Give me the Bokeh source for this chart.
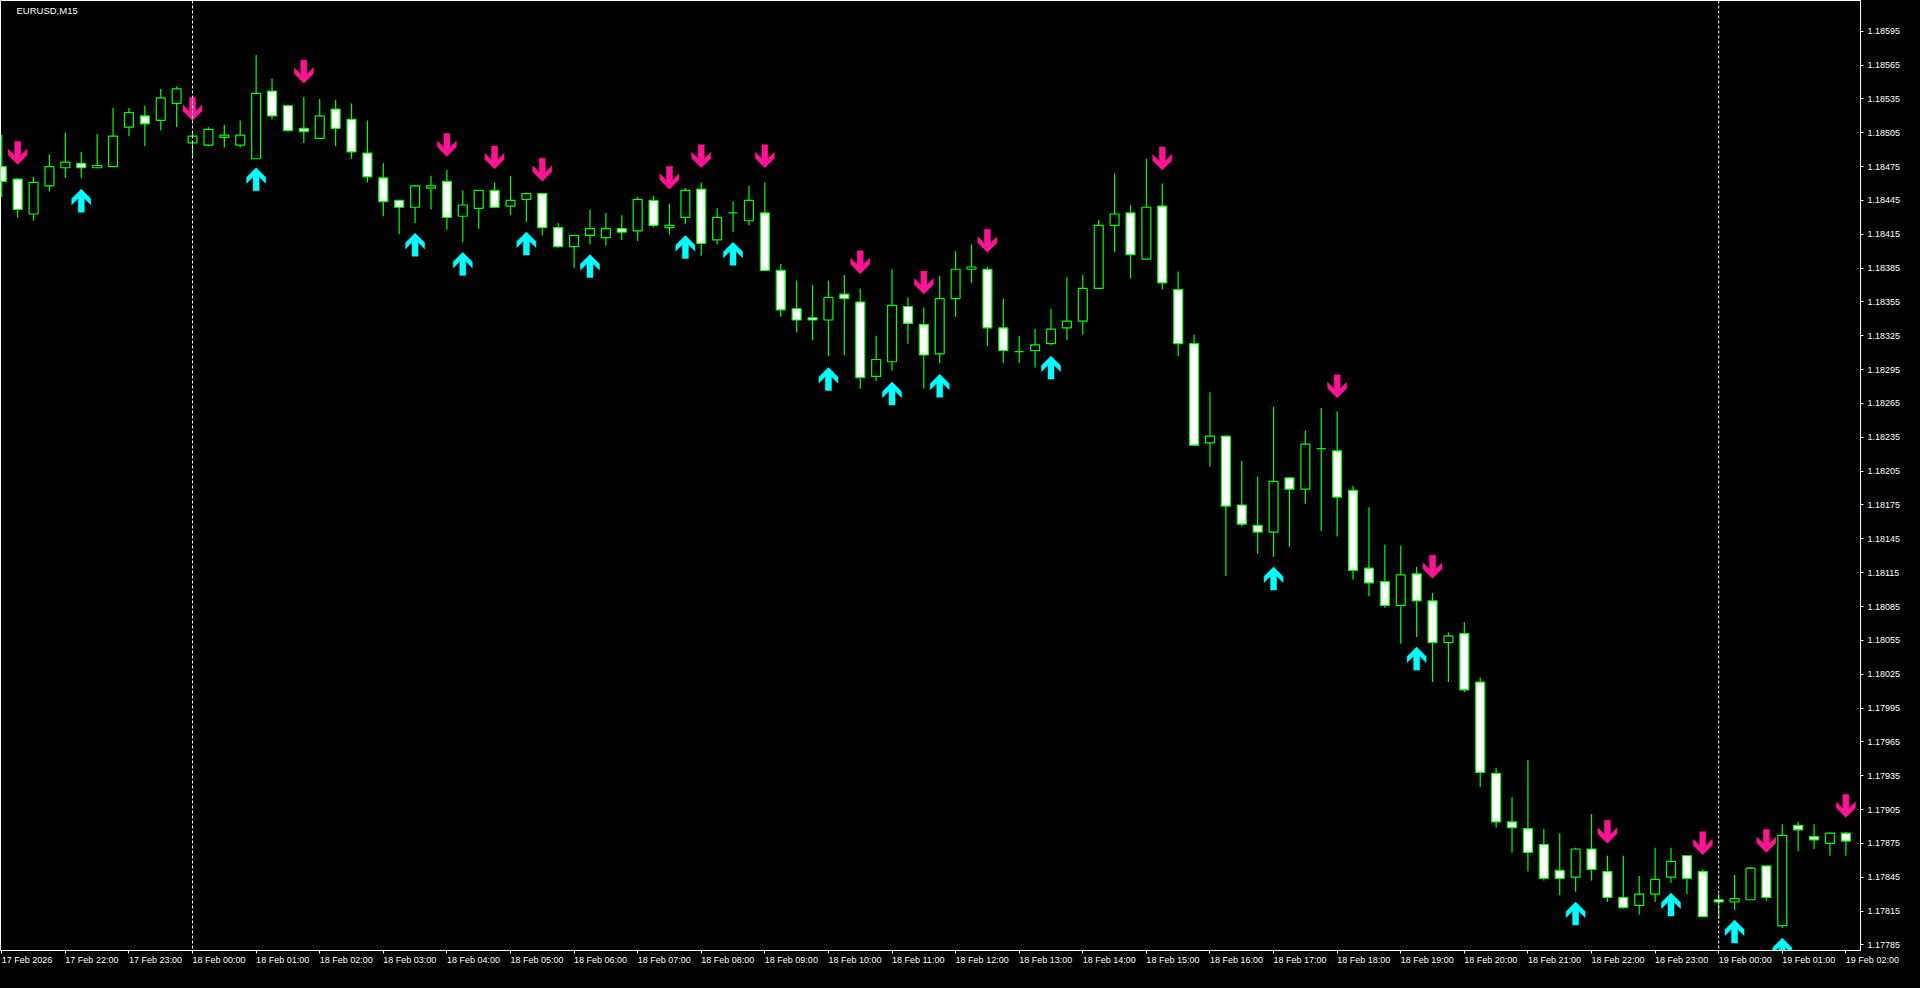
from bokeh.plotting import figure
from bokeh.models import (Range1d, LinearAxis, FixedTicker, PrintfTickFormatter,
                          ColumnDataSource, Span, Label)
from bokeh.embed import file_html
from bokeh.resources import INLINE

# ---------------- DATA (EURUSD M15, 17 Feb 21:00 -> 19 Feb 02:00) ----------------
opens = [1.18475, 1.18464, 1.18433, 1.18458, 1.18474, 1.18478, 1.18474, 1.18475, 1.18510, 1.18520,
         1.18516, 1.18531, 1.18496, 1.18494, 1.18501, 1.18494, 1.18482, 1.18542, 1.18529, 1.18509,
         1.18500, 1.18526, 1.18517, 1.18487, 1.18465, 1.18445, 1.18439, 1.18456, 1.18462, 1.18431,
         1.18438, 1.18454, 1.18440, 1.18446, 1.18451, 1.18421, 1.18404, 1.18414, 1.18412, 1.18420,
         1.18418, 1.18445, 1.18421, 1.18430, 1.18455, 1.18410, 1.18434, 1.18427, 1.18434, 1.18383,
         1.18349, 1.18341, 1.18339, 1.18362, 1.18355, 1.18289, 1.18302, 1.18351, 1.18335, 1.18309,
         1.18358, 1.18384, 1.18384, 1.18332, 1.18311, 1.18312, 1.18318, 1.18332, 1.18338, 1.18367,
         1.18423, 1.18434, 1.18393, 1.18440, 1.18366, 1.18318, 1.18230, 1.18236, 1.18175, 1.18157,
         1.18151, 1.18199, 1.18189, 1.18225, 1.18223, 1.18188, 1.18119, 1.18107, 1.18086, 1.18114,
         1.18090, 1.18053, 1.18061, 1.18018, 1.17937, 1.17894, 1.17888, 1.17874, 1.17851, 1.17845,
         1.17870, 1.17850, 1.17827, 1.17820, 1.17830, 1.17845, 1.17864, 1.17850, 1.17825, 1.17823,
         1.17825, 1.17855, 1.17802, 1.17891, 1.17881, 1.17875, 1.17884]
highs = [1.18503, 1.18465, 1.18466, 1.18486, 1.18505, 1.18488, 1.18504, 1.18527, 1.18527, 1.18529,
         1.18544, 1.18546, 1.18506, 1.18510, 1.18512, 1.18516, 1.18574, 1.18553, 1.18530, 1.18537,
         1.18535, 1.18534, 1.18531, 1.18516, 1.18478, 1.18445, 1.18459, 1.18467, 1.18472, 1.18454,
         1.18454, 1.18461, 1.18467, 1.18452, 1.18451, 1.18425, 1.18414, 1.18437, 1.18434, 1.18432,
         1.18448, 1.18449, 1.18442, 1.18456, 1.18461, 1.18438, 1.18444, 1.18458, 1.18461, 1.18389,
         1.18374, 1.18370, 1.18374, 1.18379, 1.18367, 1.18325, 1.18384, 1.18359, 1.18350, 1.18378,
         1.18400, 1.18406, 1.18386, 1.18358, 1.18325, 1.18331, 1.18349, 1.18377, 1.18379, 1.18428,
         1.18469, 1.18441, 1.18482, 1.18460, 1.18382, 1.18326, 1.18275, 1.18236, 1.18214, 1.18200,
         1.18262, 1.18200, 1.18241, 1.18261, 1.18258, 1.18192, 1.18173, 1.18140, 1.18139, 1.18120,
         1.18097, 1.18062, 1.18071, 1.18022, 1.17942, 1.17916, 1.17949, 1.17888, 1.17884, 1.17871,
         1.17901, 1.17864, 1.17864, 1.17846, 1.17871, 1.17871, 1.17864, 1.17852, 1.17830, 1.17847,
         1.17854, 1.17855, 1.17892, 1.17894, 1.17892, 1.17884, 1.17885]
lows = [1.18448, 1.18430, 1.18427, 1.18453, 1.18465, 1.18465, 1.18474, 1.18475, 1.18502, 1.18493,
        1.18507, 1.18510, 1.18483, 1.18493, 1.18492, 1.18492, 1.18482, 1.18517, 1.18506, 1.18496,
        1.18499, 1.18493, 1.18482, 1.18461, 1.18431, 1.18415, 1.18425, 1.18437, 1.18419, 1.18408,
        1.18420, 1.18438, 1.18432, 1.18426, 1.18414, 1.18403, 1.18385, 1.18406, 1.18405, 1.18410,
        1.18409, 1.18421, 1.18415, 1.18424, 1.18396, 1.18406, 1.18417, 1.18423, 1.18383, 1.18342,
        1.18328, 1.18321, 1.18307, 1.18308, 1.18278, 1.18285, 1.18294, 1.18318, 1.18278, 1.18301,
        1.18342, 1.18372, 1.18316, 1.18301, 1.18301, 1.18297, 1.18317, 1.18321, 1.18326, 1.18367,
        1.18399, 1.18376, 1.18393, 1.18366, 1.18307, 1.18227, 1.18209, 1.18112, 1.18156, 1.18132,
        1.18129, 1.18138, 1.18176, 1.18152, 1.18147, 1.18109, 1.18094, 1.18084, 1.18052, 1.18058,
        1.18018, 1.18018, 1.18009, 1.17925, 1.17889, 1.17867, 1.17850, 1.17842, 1.17829, 1.17832,
        1.17842, 1.17823, 1.17817, 1.17812, 1.17823, 1.17840, 1.17830, 1.17810, 1.17808, 1.17816,
        1.17825, 1.17824, 1.17800, 1.17868, 1.17870, 1.17864, 1.17864]
closes = [1.18462, 1.18437, 1.18461, 1.18475, 1.18479, 1.18474, 1.18476, 1.18502, 1.18523, 1.18513,
          1.18536, 1.18544, 1.18502, 1.18508, 1.18503, 1.18503, 1.18540, 1.18520, 1.18507, 1.18506,
          1.18520, 1.18509, 1.18488, 1.18466, 1.18444, 1.18439, 1.18458, 1.18458, 1.18430, 1.18441,
          1.18454, 1.18439, 1.18445, 1.18451, 1.18421, 1.18404, 1.18414, 1.18420, 1.18420, 1.18417,
          1.18446, 1.18423, 1.18423, 1.18454, 1.18407, 1.18430, 1.18434, 1.18445, 1.18383, 1.18348,
          1.18339, 1.18339, 1.18359, 1.18358, 1.18288, 1.18304, 1.18352, 1.18336, 1.18308, 1.18358,
          1.18384, 1.18386, 1.18332, 1.18312, 1.18311, 1.18317, 1.18331, 1.18338, 1.18367, 1.18423,
          1.18433, 1.18397, 1.18439, 1.18372, 1.18318, 1.18228, 1.18236, 1.18174, 1.18158, 1.18151,
          1.18196, 1.18189, 1.18229, 1.18225, 1.18182, 1.18117, 1.18106, 1.18086, 1.18113, 1.18090,
          1.18053, 1.18059, 1.18011, 1.17938, 1.17894, 1.17889, 1.17867, 1.17844, 1.17844, 1.17870,
          1.17852, 1.17827, 1.17818, 1.17830, 1.17843, 1.17859, 1.17844, 1.17810, 1.17823, 1.17826,
          1.17853, 1.17827, 1.17882, 1.17887, 1.17878, 1.17884, 1.17877]

# signal arrows: bar index and price of the arrow tip
sell_bars = [1, 12, 19, 28, 31, 34, 42, 44, 48, 54, 58, 62, 73, 84, 90, 101, 107, 111, 116]
sell_prices = [1.18477, 1.18516, 1.18549, 1.18484, 1.18473, 1.18462, 1.18455, 1.18474, 1.18474, 1.18380,
               1.18362, 1.18399, 1.18472, 1.18270, 1.18110, 1.17875, 1.17865, 1.17867, 1.17898]
buy_bars = [5, 16, 26, 29, 33, 37, 43, 46, 52, 56, 59, 66, 80, 89, 99, 105, 109, 112]
buy_prices = [1.18455, 1.18474, 1.18416, 1.18399, 1.18417, 1.18397, 1.18414, 1.18408, 1.18297, 1.18284,
              1.18291, 1.18307, 1.18120, 1.18049, 1.17823, 1.17831, 1.17807, 1.17791]

# period separators (bar index of day start)
day_separators = [12, 108]

# axis ticks
time_tick_bars = [0, 4, 8, 12, 16, 20, 24, 28, 32, 36, 40, 44, 48, 52, 56, 60, 64, 68, 72, 76,
                  80, 84, 88, 92, 96, 100, 104, 108, 112, 116]
time_tick_labels = ["17 Feb 2026", "17 Feb 22:00", "17 Feb 23:00", "18 Feb 00:00", "18 Feb 01:00",
                    "18 Feb 02:00", "18 Feb 03:00", "18 Feb 04:00", "18 Feb 05:00", "18 Feb 06:00",
                    "18 Feb 07:00", "18 Feb 08:00", "18 Feb 09:00", "18 Feb 10:00", "18 Feb 11:00",
                    "18 Feb 12:00", "18 Feb 13:00", "18 Feb 14:00", "18 Feb 15:00", "18 Feb 16:00",
                    "18 Feb 17:00", "18 Feb 18:00", "18 Feb 19:00", "18 Feb 20:00", "18 Feb 21:00",
                    "18 Feb 22:00", "18 Feb 23:00", "19 Feb 00:00", "19 Feb 01:00", "19 Feb 02:00"]
price_ticks = [1.17785, 1.17815, 1.17845, 1.17875, 1.17905, 1.17935, 1.17965, 1.17995, 1.18025,
               1.18055, 1.18085, 1.18115, 1.18145, 1.18175, 1.18205, 1.18235, 1.18265, 1.18295,
               1.18325, 1.18355, 1.18385, 1.18415, 1.18445, 1.18475, 1.18505, 1.18535, 1.18565,
               1.18595]
chart_title = "EURUSD,M15"

# ---------------- STYLE / LAYOUT ----------------
FONT = "Liberation Sans"
CANDLE = "#00FF00"
SELL_COLOR = "#FF1493"
BUY_COLOR = "#00FFFF"
frame_w, frame_h = 1860, 950
x_start, x_end = -0.08, 116.92
y_start, y_end = 1.17780, 1.186223
ppb = frame_w / (x_end - x_start)      # pixels per bar
ppp = frame_h / (y_end - y_start)      # pixels per price unit

p = figure(frame_width=frame_w, frame_height=frame_h,
           x_range=Range1d(x_start, x_end), y_range=Range1d(y_start, y_end),
           output_backend="svg", toolbar_location=None,
           x_axis_location=None, y_axis_location=None,
           background_fill_color="black", border_fill_color="black",
           outline_line_color="white", outline_line_width=1,
           min_border_left=0, min_border_top=0, min_border_right=0, min_border_bottom=0)
p.grid.grid_line_color = None

bars = list(range(len(opens)))
tops = [max(o, c) for o, c in zip(opens, closes)]
bottoms = [min(o, c) for o, c in zip(opens, closes)]
fills = ["white" if c < o else "black" for o, c in zip(opens, closes)]
src = ColumnDataSource(dict(x=bars, high=highs, low=lows, top=tops, bottom=bottoms, fill=fills))

# period separators
for d in day_separators:
    p.add_layout(Span(location=d, dimension="height", line_color="white",
                      line_dash="3 2", line_width=1))

# candles
p.segment(x0="x", y0="low", x1="x", y1="high", source=src, line_color=CANDLE, line_width=1.2)
p.vbar(x="x", width=9.0 / 16.0, top="top", bottom="bottom", fill_color="fill",
       line_color=CANDLE, line_width=1.2, source=src)

# arrows (shape in pixels, y measured from the tip away from the price)
shape = [(-3, 23), (3, 23), (3, 9), (9.5, 15.5), (9.5, 9.5), (0, 0),
         (-9.5, 9.5), (-9.5, 15.5), (-3, 9)]


def arrow_polys(idx, prices, direction):
    xs, ys = [], []
    for i, pr in zip(idx, prices):
        xs.append([i + dx / ppb for dx, dy in shape])
        ys.append([pr + direction * dy / ppp for dx, dy in shape])
    return xs, ys


sx, sy = arrow_polys(sell_bars, sell_prices, +1)
bx, by = arrow_polys(buy_bars, buy_prices, -1)
p.patches(sx, sy, fill_color=SELL_COLOR, line_color=SELL_COLOR, line_width=0.5)
p.patches(bx, by, fill_color=BUY_COLOR, line_color=BUY_COLOR, line_width=0.5)

# title label
p.add_layout(Label(x=x_start + 16 / ppb, y=y_end - 4 / ppp, text=chart_title,
                   text_baseline="top", text_align="left", text_color="white",
                   text_font=FONT, text_font_size="9.5px"))

# price axis (right)
yaxis = LinearAxis(ticker=FixedTicker(ticks=price_ticks),
                   formatter=PrintfTickFormatter(format="%.5f"),
                   axis_line_color="white", major_tick_line_color="white",
                   major_tick_out=3, major_tick_in=0, minor_tick_line_color=None,
                   major_label_text_color="white", major_label_text_font=FONT,
                   major_label_text_font_size="9px", major_label_standoff=4)
p.add_layout(yaxis, "right")

# time axis: labels start at their tick (tiny negative angle -> left aligned)
xaxis = LinearAxis(ticker=FixedTicker(ticks=time_tick_bars),
                   major_label_overrides={b: t for b, t in zip(time_tick_bars, time_tick_labels)},
                   major_label_orientation=-1e-4,
                   axis_line_color="white", major_tick_line_color="white",
                   major_tick_out=3, major_tick_in=0, minor_tick_line_color=None,
                   major_label_standoff=6, major_label_text_color="white",
                   major_label_text_font=FONT, major_label_text_font_size="9px")
p.add_layout(xaxis, "below")

html = file_html(p, INLINE, title=chart_title)
html = html.replace("</head>", "<style>html,body{background:#000;}</style></head>", 1)
open("out.html", "w").write(html)
